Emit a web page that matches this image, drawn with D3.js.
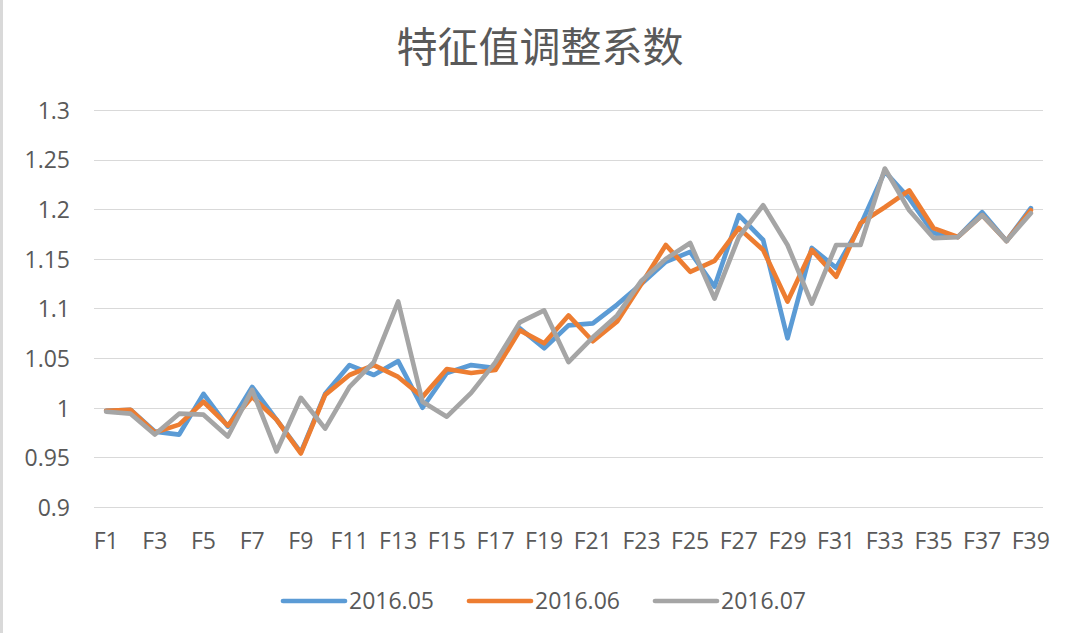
<!DOCTYPE html>
<html>
<head>
<meta charset="utf-8">
<script src="https://d3js.org/d3.v7.min.js"></script>
<style>
  html, body { margin: 0; padding: 0; background: #fff; }
  svg { display: block; }
  text { font-family: "Open Sans", "Noto Sans", sans-serif; fill: #595959; }
</style>
</head>
<body>
<svg id="chart" width="1077" height="633"></svg>
<script>
const title = "特征值调整系数";
const categories = d3.range(1, 40).map(i => "F" + i);
const seriesNames = ["2016.05", "2016.06", "2016.07"];
const s201605 = [0.997, 0.998, 0.976, 0.973, 1.014, 0.981, 1.021, 0.988, 0.955, 1.014,
                 1.043, 1.033, 1.047, 1.000, 1.035, 1.043, 1.040, 1.080, 1.060, 1.083,
                 1.085, 1.104, 1.125, 1.147, 1.157, 1.122, 1.194, 1.169, 1.070, 1.161,
                 1.141, 1.184, 1.238, 1.211, 1.176, 1.172, 1.197, 1.168, 1.201];
const s201606 = [0.997, 0.998, 0.975, 0.983, 1.006, 0.982, 1.011, 0.988, 0.954, 1.013,
                 1.033, 1.043, 1.031, 1.011, 1.039, 1.035, 1.038, 1.078, 1.065, 1.093,
                 1.067, 1.087, 1.125, 1.164, 1.137, 1.148, 1.181, 1.159, 1.107, 1.159,
                 1.132, 1.186, 1.202, 1.219, 1.181, 1.172, 1.194, 1.168, 1.199];
const s201607 = [0.996, 0.994, 0.973, 0.994, 0.993, 0.971, 1.018, 0.956, 1.010, 0.979,
                 1.021, 1.046, 1.107, 1.006, 0.991, 1.015, 1.046, 1.086, 1.098, 1.046,
                 1.071, 1.093, 1.128, 1.150, 1.166, 1.110, 1.172, 1.204, 1.164, 1.105,
                 1.164, 1.164, 1.241, 1.199, 1.171, 1.172, 1.194, 1.168, 1.196];
const yTicks = [0.9, 0.95, 1, 1.05, 1.1, 1.15, 1.2, 1.25, 1.3];
const colors = ["#5B9BD5", "#ED7D31", "#A5A5A5"];

const seriesData = [s201605, s201606, s201607];
const svg = d3.select("#chart");

// left border of the chart frame
svg.append("rect").attr("x", 0).attr("y", 0).attr("width", 3).attr("height", 633).attr("fill", "#d9d9d9");

const x = d3.scaleBand().domain(categories).range([94, 1043]);
const y = d3.scaleLinear().domain([0.9, 1.3]).range([507, 110]);

// gridlines
svg.append("g").selectAll("line").data(yTicks).join("line")
  .attr("x1", 94).attr("x2", 1043)
  .attr("y1", d => Math.round(y(d)) + 0.5).attr("y2", d => Math.round(y(d)) + 0.5)
  .attr("stroke", "#d9d9d9").attr("stroke-width", 1);

// y axis
const yAxis = d3.axisLeft(y).tickValues(yTicks).tickSize(0).tickPadding(0)
  .tickFormat(d => String(+d.toFixed(2)));
const gy = svg.append("g").attr("transform", "translate(70,0)").call(yAxis);
gy.select(".domain").remove();
gy.selectAll("text").style("font-size", "23px").attr("fill", "#595959").attr("dy", "0.36em");

// x axis
const xAxis = d3.axisBottom(x).tickValues(categories.filter((c, i) => i % 2 === 0)).tickSize(0).tickPadding(0);
const gx = svg.append("g").attr("transform", "translate(0,549)").call(xAxis);
gx.select(".domain").remove();
gx.selectAll("text").style("font-size", "23px").attr("fill", "#595959").attr("dy", "0");

// lines
const line = d3.line()
  .x((d, i) => x(categories[i]) + x.bandwidth() / 2)
  .y(d => y(d));
svg.append("g").selectAll("path").data(seriesData).join("path")
  .attr("d", d => line(d))
  .attr("fill", "none")
  .attr("stroke", (d, i) => colors[i])
  .attr("stroke-width", 4.7)
  .attr("stroke-linejoin", "round")
  .attr("stroke-linecap", "round");

// title
svg.append("text").attr("x", 540).attr("y", 62).attr("text-anchor", "middle")
  .style("font-family", "'Noto Sans CJK SC', sans-serif").style("font-size", "41px")
  .text(title);

// legend
const legendX = [283, 469, 655];
const lg = svg.append("g").selectAll("g").data(seriesNames).join("g")
  .attr("transform", (d, i) => `translate(${legendX[i]},601)`);
lg.append("line").attr("x1", 0).attr("x2", 62).attr("y1", 0).attr("y2", 0)
  .attr("stroke", (d, i) => colors[i]).attr("stroke-width", 4.7).attr("stroke-linecap", "round");
lg.append("text").attr("x", 66).attr("y", 0).attr("dy", "0.36em")
  .style("font-size", "23px").text(d => d);
</script>
</body>
</html>
